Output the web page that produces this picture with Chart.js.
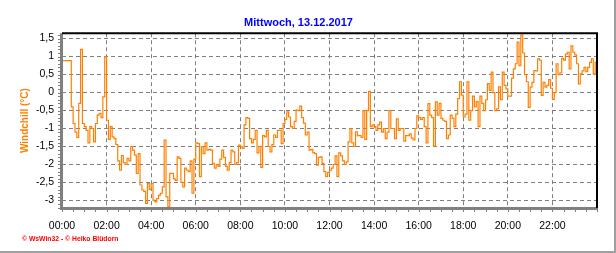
<!doctype html>
<html>
<head>
  <meta charset="utf-8">
  <script src="https://cdn.jsdelivr.net/npm/chart.js@4/dist/chart.umd.min.js"></script>
  <style>
    body { margin: 0; background: #fff; }
  </style>
</head>
<body>
  <canvas id="canvas" width="616" height="253"></canvas>
  <script>
    const chartTitle = 'Mittwoch, 13.12.2017';
    const yTitle = 'Windchill (°C)';
    const footer = '© WsWin32 - © Heiko Blüdorn';

    // one reading every 5 minutes, starting 00:00
    const stepMinutes = 5;
    const windchill = [
      // 00:00 - 03:55
      0.89, 0.89, 0.89, 0.89, 0.89, -0.4, -0.86, -1.1, -1.25, -0.3, 1.2, -0.86,
      -0.95, -1.05, -1.4, -0.95, -1.0, -1.37, -0.86, -0.63, -0.58, -0.7, -0.12, 0.99,
      -0.77, -1.3, -0.95, -1.23, -1.28, -1.45, -1.9, -2.16, -1.75, -1.95, -2.0, -1.83,
      -1.9, -1.5, -1.6, -1.74, -2.25, -1.7, -2.57, -2.71, -2.75, -3.08, -2.53, -2.7,
      // 04:00 - 07:55
      -2.53, -3.0, -3.04, -2.95, -2.85, -2.8, -2.62, -1.32, -2.9, -3.18, -2.25, -2.25,
      -2.4, -2.44, -1.79, -1.83, -2.5, -2.62, -2.1, -2.16, -2.2, -1.9, -2.8, -1.85,
      -1.4, -1.42, -2.34, -1.5, -1.7, -1.4, -1.6, -1.58, -1.6, -1.97, -2.1, -2.0,
      -2.05, -1.85, -1.6, -1.8, -2.05, -2.16, -1.95, -1.6, -1.65, -2.0, -1.95, -1.46,
      // 08:00 - 11:55
      -1.5, -1.55, -0.9, -0.7, -0.72, -1.28, -1.4, -1.3, -1.05, -1.68, -1.5, -2.08,
      -1.2, -1.23, -1.05, -1.5, -1.65, -1.45, -1.18, -1.25, -1.05, -1.05, -1.42, -0.86,
      -0.75, -0.54, -0.68, -0.95, -1.0, -0.8, -0.49, -0.5, -0.38, -0.7, -0.85, -1.18,
      -1.1, -1.6, -1.58, -1.67, -1.7, -2.02, -1.8, -1.79, -1.97, -2.2, -2.34, -2.22,
      // 12:00 - 15:55
      -2.16, -2.1, -2.0, -1.76, -2.34, -1.68, -1.76, -1.9, -2.0, -1.93, -1.37, -1.0,
      -1.4, -1.5, -1.09, -1.2, -1.2, -1.25, -0.5, -1.3, -0.5, 0.03, -0.95, -0.9,
      -0.95, -1.05, -0.9, -0.82, -1.1, -1.0, -1.28, -1.1, -0.5, -1.0, -1.0, -1.28,
      -0.73, -1.05, -1.0, -1.0, -1.35, -1.2, -1.2, -1.15, -1.27, -1.32, -1.0, -0.65,
      // 16:00 - 19:55
      -0.7, -0.75, -0.7, -0.95, -1.4, -0.31, -0.63, -0.7, -1.49, -0.26, -0.63, -0.3,
      -0.72, -0.77, -0.8, -1.28, -1.18, -0.63, -0.72, -0.95, -0.6, -0.17, 0.3, -0.07,
      -0.68, -0.6, 0.3, -0.77, -0.5, -0.1, -0.4, -0.25, -0.95, -0.1, -0.3, -0.5,
      -0.2, 0.25, 0.06, 0.57, 0.0, -0.5, -0.45, 0.16, -0.2, 0.57, 0.2, 0.1,
      // 20:00 - 24:00
      -0.1, -0.1, 0.4, 0.66, 0.8, 1.4, 0.75, 1.6, 1.1, 0.5, 0.3, -0.41,
      0.15, 0.28, 0.61, 0.6, 0.94, 0.9, -0.08, 0.28, 0.15, 0.2, 0.36, 0.12,
      -0.19, 0.0, 0.8, 0.5, 0.55, 0.95, 0.9, 1.07, 1.12, 0.66, 1.3, 1.12,
      1.05, 0.8, 0.24, 0.52, 0.6, 0.7, 0.58, 0.7, 0.84, 0.94, 0.52, 0.84,
      0.8
    ];

    const xTickHours = [0, 2, 4, 6, 8, 10, 12, 14, 16, 18, 20, 22];
    const yTickValues = [1.5, 1, 0.5, 0, -0.5, -1, -1.5, -2, -2.5, -3];

    const points = windchill.map((v, i) => ({ x: i * stepMinutes / 60, y: v }));

    const frame = {
      id: 'frame',
      afterDraw(chart) {
        const { ctx, chartArea: a, scales: { x, y } } = chart;
        ctx.save();
        // small ticks outside the axes
        ctx.strokeStyle = '#808080';
        ctx.lineWidth = 1;
        ctx.beginPath();
        for (let v = -32; v <= 16; v++) {
          const py = Math.round(y.getPixelForValue(v / 10)) + 0.5;
          ctx.moveTo(a.left - 4, py);
          ctx.lineTo(a.left, py);
        }
        for (let m = 0; m <= 48; m++) {
          const px = Math.round(x.getPixelForValue(m / 2)) + 0.5;
          ctx.moveTo(px, a.bottom);
          ctx.lineTo(px, a.bottom + 4);
        }
        ctx.stroke();
        // grey axes left and bottom, black frame top and right
        ctx.lineWidth = 3;
        ctx.beginPath();
        ctx.moveTo(a.left - 0.5, a.top);
        ctx.lineTo(a.left - 0.5, a.bottom + 0.5);
        ctx.lineTo(a.right, a.bottom + 0.5);
        ctx.stroke();
        ctx.strokeStyle = '#000';
        ctx.lineWidth = 2;
        ctx.beginPath();
        ctx.moveTo(a.left, a.top);
        ctx.lineTo(a.right, a.top);
        ctx.lineTo(a.right, a.bottom);
        ctx.stroke();
        // footer
        ctx.fillStyle = '#ff0000';
        ctx.font = 'bold 6.8px "Liberation Sans"';
        ctx.textBaseline = 'middle';
        ctx.fillText(footer, 22, 239);
        // outer picture edge
        ctx.fillStyle = '#a0a0a0';
        ctx.fillRect(614, 0, 2, 253);
        ctx.fillRect(0, 251, 616, 2);
        ctx.restore();
      }
    };

    new Chart(document.getElementById('canvas'), {
      type: 'line',
      data: {
        datasets: [{
          data: points,
          borderColor: '#ff8000',
          borderWidth: 1.2,
          pointRadius: 0,
          stepped: true,
          fill: false
        }]
      },
      options: {
        responsive: false,
        animation: false,
        layout: { padding: { left: 0, right: 19, top: 0, bottom: 0 } },
        plugins: {
          legend: { display: false },
          tooltip: { enabled: false },
          title: {
            display: true,
            text: chartTitle,
            color: '#0000ff',
            font: { family: 'Liberation Sans', size: 11, weight: 'bold' },
            padding: { top: 16, bottom: 4 }
          }
        },
        scales: {
          x: {
            type: 'linear',
            min: 0,
            max: 24,
            afterBuildTicks: (s) => { s.ticks = xTickHours.map((v) => ({ value: v })); },
            afterFit: (s) => { s.height = 45; },
            grid: { color: '#808080', lineWidth: 1, drawTicks: false },
            border: { display: false, dash: [4, 3] },
            ticks: {
              color: '#000',
              font: { family: 'Liberation Sans', size: 10.5 },
              padding: 12,
              maxRotation: 0,
              autoSkip: false,
              callback: (v) => String(v).padStart(2, '0') + ':00'
            }
          },
          y: {
            min: -3.21,
            max: 1.65,
            afterBuildTicks: (s) => { s.ticks = yTickValues.map((v) => ({ value: v })); },
            afterFit: (s) => { s.width = 62; },
            grid: { color: '#808080', lineWidth: 1, drawTicks: false },
            border: { display: false, dash: [4, 3] },
            title: {
              display: true,
              text: yTitle,
              color: '#ff8000',
              font: { family: 'Liberation Sans', size: 10, weight: 'bold' },
              padding: { top: 19, bottom: 0 }
            },
            ticks: {
              color: '#000',
              font: { family: 'Liberation Sans', size: 10.5 },
              padding: 8,
              callback: (v) => String(v).replace('.', ',')
            }
          }
        }
      },
      plugins: [frame]
    });
  </script>
</body>
</html>
